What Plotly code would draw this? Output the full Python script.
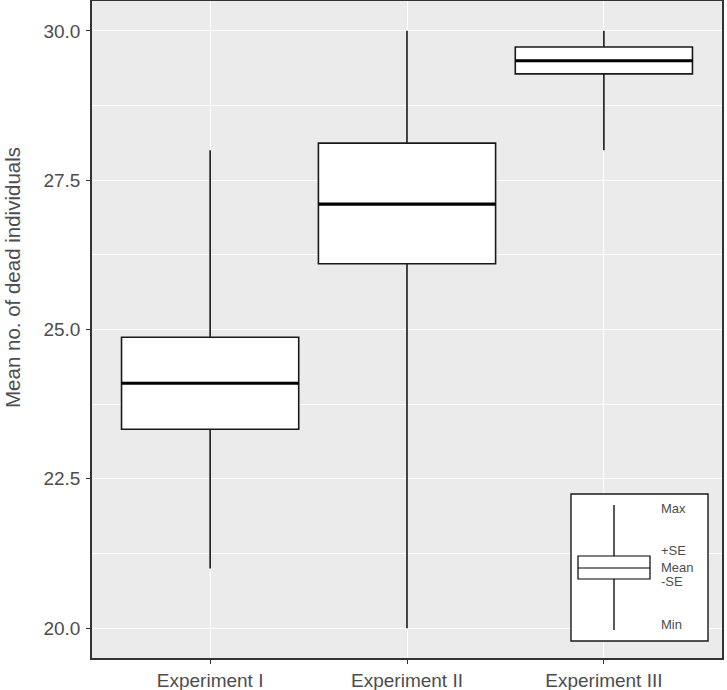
import plotly.graph_objects as go

categories = ["Experiment I", "Experiment II", "Experiment III"]
max_vals = [28.0, 30.0, 30.0]
plus_se = [24.87, 28.12, 29.73]
means = [24.1, 27.1, 29.5]
minus_se = [23.33, 26.1, 29.28]
min_vals = [21.0, 20.0, 28.0]
y_ticks = [20.0, 22.5, 25.0, 27.5, 30.0]
y_title = "Mean no. of dead individuals"

xpos = list(range(len(categories)))
BOX_W = 0.9
TXT = "#4D4D4D"
FONT = "Liberation Sans, Arial, sans-serif"

fig = go.Figure()
fig.add_trace(go.Box(
    x=xpos, q1=minus_se, median=means, q3=plus_se,
    lowerfence=min_vals, upperfence=max_vals,
    width=BOX_W, fillcolor="white", line=dict(color="#1a1a1a", width=1.6),
    boxpoints=False, whiskerwidth=0, showlegend=False, hoverinfo="skip",
))
for i, m in zip(xpos, means):
    fig.add_trace(go.Scatter(
        x=[i - BOX_W / 2, i + BOX_W / 2], y=[m, m], mode="lines",
        line=dict(color="black", width=3.2), showlegend=False, hoverinfo="skip",
    ))

# key (legend) drawn in paper coordinates
L, R, T, B = 571, 708, 494, 641
PL, PR, PT, PB = 92, 722, 1, 658
def px(v):
    return (v - PL) / (PR - PL)
def py(v):
    return (PB - v) / (PB - PT)

shapes = [
    dict(type="rect", xref="paper", yref="paper", x0=px(L), x1=px(R), y0=py(B), y1=py(T),
         fillcolor="white", line=dict(color="#1a1a1a", width=1.4), layer="above"),
    dict(type="line", xref="paper", yref="paper", x0=px(614), x1=px(614), y0=py(630), y1=py(505),
         line=dict(color="black", width=1.3), layer="above"),
    dict(type="rect", xref="paper", yref="paper", x0=px(578), x1=px(650), y0=py(579), y1=py(556),
         fillcolor="white", line=dict(color="black", width=1.2), layer="above"),
    dict(type="line", xref="paper", yref="paper", x0=px(578), x1=px(650), y0=py(568), y1=py(568),
         line=dict(color="black", width=1.2), layer="above"),
]
key_labels = ["Max", "+SE", "Mean", "-SE", "Min"]
key_y = [508, 550, 567, 581, 624]
annotations = [
    dict(text=t, xref="paper", yref="paper", x=px(659), y=py(yy), xanchor="left", yanchor="middle",
         showarrow=False, font=dict(family=FONT, size=13, color=TXT))
    for t, yy in zip(key_labels, key_y)
]
annotations.append(dict(
    text=y_title, xref="paper", yref="paper", x=px(12), y=py(278), textangle=-90,
    xanchor="center", yanchor="middle", showarrow=False,
    font=dict(family=FONT, size=20.5, color=TXT),
))

fig.update_layout(
    width=727, height=690,
    margin=dict(l=92, r=5, t=1, b=32),
    paper_bgcolor="white", plot_bgcolor="#EBEBEB",
    font=dict(family=FONT, color=TXT),
    shapes=shapes, annotations=annotations,
    xaxis=dict(
        range=[-0.6, 2.6], tickvals=xpos, ticktext=categories,
        showgrid=True, gridcolor="white", gridwidth=1.3, zeroline=False,
        showline=True, mirror=True, linecolor="#333333", linewidth=1.6,
        ticks="outside", ticklen=4, tickcolor="#333333", tickwidth=1.2,
        tickfont=dict(family=FONT, size=19, color=TXT), automargin=False,
    ),
    yaxis=dict(
        range=[19.5, 30.5], tickvals=y_ticks, ticktext=[f"{v:.1f}" for v in y_ticks],
        showgrid=True, gridcolor="white", gridwidth=1.3, zeroline=False,
        minor=dict(tickvals=[21.25, 23.75, 26.25, 28.75], showgrid=True, gridcolor="white", gridwidth=0.6),
        showline=True, mirror=True, linecolor="#333333", linewidth=1.6,
        ticks="outside", ticklen=4, tickcolor="#333333", tickwidth=1.2,
        tickfont=dict(family=FONT, size=19, color=TXT), automargin=False,
        ticklabelstandoff=2,
    ),
)
fig.write_html("out.html", config={"displayModeBar": False},
               post_script="document.body.style.margin='0';")
